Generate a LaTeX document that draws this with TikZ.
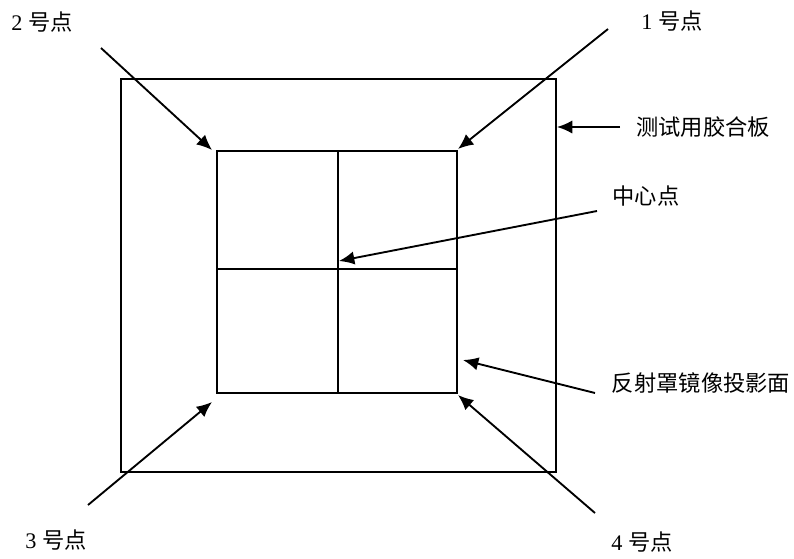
\documentclass[tikz,border=0pt]{standalone}
\usepackage{fontspec}
\setmainfont{Liberation Serif}
\newfontfamily\cjk{Noto Sans CJK SC}
\usetikzlibrary{arrows.meta}

\tikzset{
  pointer/.style={-{Latex[length=0.46cm,width=0.4cm]},line width=1.6pt},
  lbl/.style={font=\fontsize{19}{21}\selectfont,inner sep=0pt},
}

\begin{document}
\begin{tikzpicture}[x=0.03cm,y=-0.03cm]
  \useasboundingbox (0,0) rectangle (794,558);
  % plywood board and mirror face
  \draw[line width=1.7pt] (121,79) rectangle (556,472);
  \draw[line width=1.4pt] (217,151) rectangle (457,393);
  \draw[line width=1.3pt] (338,151) -- (338,393) (217,269) -- (457,269);
  % arrow targets
  \coordinate (t2) at (212,150);
  \coordinate (t1) at (458,149);
  \coordinate (tb) at (557,127);
  \coordinate (tc) at (339,261);
  \coordinate (tf) at (463,360);
  \coordinate (t3) at (212,402);
  \coordinate (t4) at (458,395);
  % labels
  \node[lbl] (p2) at (42,22) {2 {\cjk 号点}};
  \node[lbl] (p1) at (672,21) {1 {\cjk 号点}};
  \node[lbl] (board) at (703,127) {\cjk 测试用胶合板};
  \node[lbl] (centre) at (646,196) {\cjk 中心点};
  \node[lbl] (face) at (701,383) {\cjk 反射罩镜像投影面};
  \node[lbl] (p3) at (56,540) {3 {\cjk 号点}};
  \node[lbl] (p4) at (642,542) {4 {\cjk 号点}};
  % arrow tails
  \coordinate (s2) at (101,48);
  \coordinate (s1) at (608,29);
  \coordinate (sb) at (620,127);
  \coordinate (sc) at (597,211);
  \coordinate (sf) at (595,393);
  \coordinate (s3) at (88,505);
  \coordinate (s4) at (595,513);
  \draw[pointer] (s2) -- (t2);
  \draw[pointer] (s1) -- (t1);
  \draw[pointer] (sb) -- (tb);
  \draw[pointer] (sc) -- (tc);
  \draw[pointer] (sf) -- (tf);
  \draw[pointer] (s3) -- (t3);
  \draw[pointer] (s4) -- (t4);
\end{tikzpicture}
\end{document}
